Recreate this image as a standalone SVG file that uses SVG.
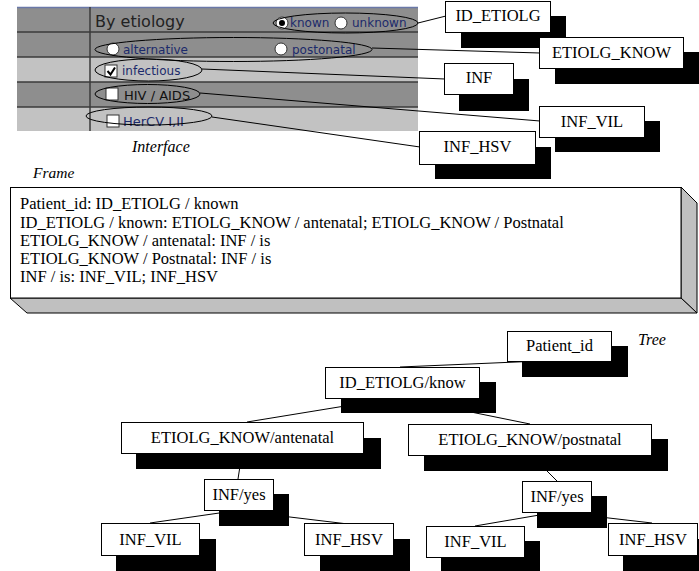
<svg xmlns="http://www.w3.org/2000/svg" width="699" height="571" viewBox="0 0 699 571">
<style>
.t{font-family:"Liberation Serif","Times New Roman",serif;font-size:16.5px;fill:#000;text-anchor:middle}
.fr{font-family:"Liberation Serif","Times New Roman",serif;font-size:16.5px;fill:#000}
.cap{font-family:"Liberation Serif","Times New Roman",serif;font-style:italic;font-size:16px;fill:#000}
.box{fill:#fff;stroke:#000;stroke-width:1}
.sh{fill:#000}
.ln{stroke:#000;stroke-width:1;fill:none}
.ui{font-family:"DejaVu Sans",sans-serif;font-size:12px;fill:#1c2a6b}
.dk{fill:#8e8e8e}
.lt{fill:#c2c2c2}
.sep{stroke:#3a3a3a;stroke-width:1.5}
.rad{fill:#fff;stroke:#333;stroke-width:1}
.chk{fill:#fff;stroke:#333;stroke-width:1}
.ell{fill:none;stroke:#000;stroke-width:1}
</style>

<g id="interface">
<rect class="dk" x="17" y="7" width="401" height="50"/>
<rect class="lt" x="17" y="57" width="401" height="25"/>
<rect class="dk" x="17" y="82" width="401" height="25"/>
<rect class="lt" x="17" y="107" width="401" height="24"/>
<line x1="17" y1="7.5" x2="418" y2="7.5" stroke="#6a78a8" stroke-width="1.5"/>
<line class="sep" x1="17" y1="32" x2="418" y2="32"/>
<line class="sep" x1="17" y1="57" x2="418" y2="57"/>
<line class="sep" x1="17" y1="82" x2="418" y2="82"/>
<line class="sep" x1="17" y1="107" x2="418" y2="107"/>
<line class="sep" x1="90" y1="7" x2="90" y2="131"/>
<text x="95" y="27" style="font-family:'DejaVu Sans',sans-serif;font-size:16px;fill:#222">By etiology</text>
<circle class="rad" cx="282" cy="23" r="6"/>
<circle cx="282" cy="23" r="3" fill="#000"/>
<text class="ui" x="290" y="27">known</text>
<circle class="rad" cx="341" cy="23" r="6"/>
<text class="ui" x="352" y="27">unknown</text>
<circle class="rad" cx="113" cy="49" r="6"/>
<text class="ui" x="123" y="54">alternative</text>
<circle class="rad" cx="281" cy="49" r="6"/>
<text class="ui" x="292" y="54">postonatal</text>
<rect class="chk" x="105" y="65" width="12" height="12"/>
<path d="M107.5 71 L110.5 74.5 L115 67.5" fill="none" stroke="#000" stroke-width="2"/>
<text class="ui" x="122" y="75">infectious</text>
<rect class="chk" x="106" y="88" width="12" height="12"/>
<text class="ui" x="124" y="100" style="font-size:13px;fill:#111">HIV / AIDS</text>
<rect class="chk" x="107" y="115" width="12" height="12"/>
<text class="ui" x="123" y="126" style="font-size:13px">HerCV I,II</text>
<ellipse class="ell" cx="345.5" cy="23" rx="72.5" ry="10"/>
<ellipse class="ell" cx="233.5" cy="49.5" rx="138.5" ry="12"/>
<ellipse class="ell" cx="148.5" cy="70" rx="53.5" ry="11"/>
<ellipse class="ell" cx="147.5" cy="94" rx="52.5" ry="9.5"/>
<ellipse class="ell" cx="149" cy="116" rx="63" ry="9"/>
<text class="cap" x="132" y="152">Interface</text>
</g>

<g id="connectors">
<line class="ln" x1="418" y1="23" x2="446" y2="16"/>
<line class="ln" x1="372" y1="48" x2="540" y2="53"/>
<line class="ln" x1="202" y1="69" x2="445" y2="79"/>
<line class="ln" x1="200" y1="93" x2="540" y2="121"/>
<line class="ln" x1="212" y1="117" x2="420" y2="147"/>
<line class="ln" x1="540" y1="361" x2="400" y2="367"/>
<line class="ln" x1="400" y1="397" x2="247" y2="422"/>
<line class="ln" x1="402" y1="398" x2="530" y2="424"/>
<line class="ln" x1="242" y1="453" x2="238" y2="479"/>
<line class="ln" x1="531" y1="455" x2="557" y2="481"/>
<line class="ln" x1="240" y1="510" x2="150" y2="523"/>
<line class="ln" x1="240" y1="511" x2="348" y2="524"/>
<line class="ln" x1="557" y1="512" x2="475" y2="526"/>
<line class="ln" x1="557" y1="512" x2="652" y2="523"/>
</g>

<g id="lbl_id_etiolg">
<rect class="sh" x="461" y="16" width="105" height="32"/>
<rect class="box" x="445.5" y="1.5" width="105" height="31"/>
<text class="t" x="498" y="21">ID_ETIOLG</text>
</g>
<g id="lbl_etiolg_know">
<rect class="sh" x="555" y="52" width="144" height="32"/>
<rect class="box" x="539.5" y="37.5" width="144" height="31"/>
<text class="t" x="611.5" y="58">ETIOLG_KNOW</text>
</g>
<g id="lbl_inf">
<rect class="sh" x="459" y="79" width="70" height="32"/>
<rect class="box" x="444.5" y="63.5" width="69" height="31"/>
<text class="t" x="479" y="83">INF</text>
</g>
<g id="lbl_inf_vil">
<rect class="sh" x="555" y="121" width="105" height="31"/>
<rect class="box" x="539.5" y="106.5" width="105" height="31"/>
<text class="t" x="592" y="127">INF_VIL</text>
</g>
<g id="lbl_inf_hsv">
<rect class="sh" x="435" y="147" width="116" height="32"/>
<rect class="box" x="419.5" y="131.5" width="116" height="33"/>
<text class="t" x="477.5" y="152">INF_HSV</text>
</g>

<g id="frame">
<text class="cap" x="33" y="178" style="font-size:15.5px">Frame</text>
<polygon points="681,187 697,203 697,313 681,298" fill="#c0c0c0" stroke="#000" stroke-width="1"/>
<polygon points="10,298 681,298 697,313 27,313" fill="#c0c0c0" stroke="#000" stroke-width="1"/>
<rect x="10.5" y="187.5" width="670.5" height="110.5" fill="#fff" stroke="#000" stroke-width="1"/>
<text class="fr" x="20" y="209">Patient_id: ID_ETIOLG / known</text>
<text class="fr" x="20" y="228">ID_ETIOLG / known: ETIOLG_KNOW / antenatal; ETIOLG_KNOW / Postnatal</text>
<text class="fr" x="20" y="246">ETIOLG_KNOW / antenatal: INF / is</text>
<text class="fr" x="20" y="264">ETIOLG_KNOW / Postnatal: INF / is</text>
<text class="fr" x="20" y="282">INF / is: INF_VIL; INF_HSV</text>
</g>

<text class="cap" x="638" y="345">Tree</text>

<g id="n_patient">
<rect class="sh" x="522" y="346" width="106" height="31"/>
<rect class="box" x="507.5" y="331.5" width="104" height="30"/>
<text class="t" x="559.5" y="351">Patient_id</text>
</g>
<g id="n_id_etiolg">
<rect class="sh" x="341" y="382" width="155" height="31"/>
<rect class="box" x="325.5" y="367.5" width="154" height="31"/>
<text class="t" x="402.5" y="388">ID_ETIOLG/know</text>
</g>
<g id="n_ante">
<rect class="sh" x="136" y="438" width="245" height="31"/>
<rect class="box" x="121.5" y="422.5" width="242" height="31"/>
<text class="t" x="242.5" y="443">ETIOLG_KNOW/antenatal</text>
</g>
<g id="n_post">
<rect class="sh" x="424" y="439" width="244" height="32"/>
<rect class="box" x="408.5" y="424.5" width="243" height="31"/>
<text class="t" x="530" y="445">ETIOLG_KNOW/postnatal</text>
</g>
<g id="n_inf1">
<rect class="sh" x="219" y="494" width="70" height="32"/>
<rect class="box" x="204.5" y="479.5" width="69" height="31"/>
<text class="t" x="239" y="500">INF/yes</text>
</g>
<g id="n_inf2">
<rect class="sh" x="537" y="496" width="70" height="32"/>
<rect class="box" x="522.5" y="481.5" width="69" height="31"/>
<text class="t" x="557" y="502">INF/yes</text>
</g>
<g id="n_vil1">
<rect class="sh" x="116" y="539" width="100" height="32"/>
<rect class="box" x="101.5" y="523.5" width="98" height="32"/>
<text class="t" x="150.5" y="545">INF_VIL</text>
</g>
<g id="n_hsv1">
<rect class="sh" x="320" y="539" width="90" height="32"/>
<rect class="box" x="304.5" y="523.5" width="89" height="32"/>
<text class="t" x="349" y="545">INF_HSV</text>
</g>
<g id="n_vil2">
<rect class="sh" x="441" y="541" width="99" height="30"/>
<rect class="box" x="426.5" y="526.5" width="98" height="31"/>
<text class="t" x="475.5" y="547">INF_VIL</text>
</g>
<g id="n_hsv2">
<rect class="sh" x="623" y="539" width="76" height="32"/>
<rect class="box" x="608.5" y="523.5" width="89" height="32"/>
<text class="t" x="653" y="545">INF_HSV</text>
</g>
</svg>
